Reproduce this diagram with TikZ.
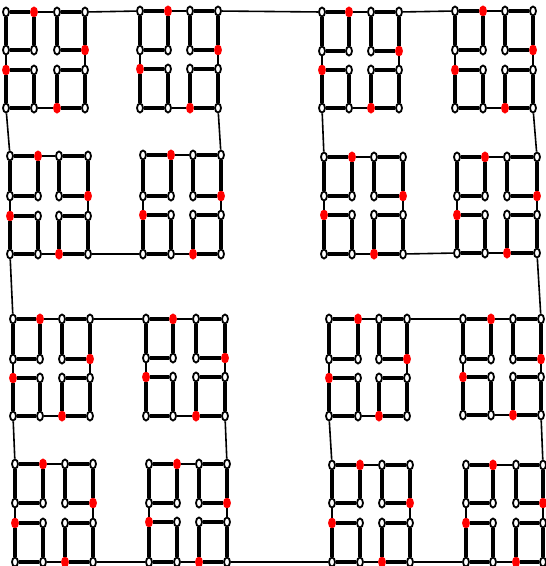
\documentclass[tikz,border=0pt]{standalone}
\usetikzlibrary{shapes.geometric}
\tikzset{
  vtx/.style={ellipse,draw=black,fill=white,line width=1.8pt,inner sep=0pt,
    minimum width=6pt,minimum height=9pt},
  sqedge/.style={line width=3.2pt,color=black},
  lnkedge/.style={line width=1.6pt,color=black}
}
\begin{document}
\begin{tikzpicture}[x=1pt,y=-1pt]
  \useasboundingbox (0,0) rectangle (546,566);
  % vertices: unit / 4 columns / 4 rows
  \foreach \u/\xa/\xb/\xc/\xd/\ya/\yb/\yc/\yd in {
      A1/6/34/57/85/12/50/70/108,     A2/140/168/190/218/11/50/69/108,
      A3/10/38/59/88/156/196/216/254, A4/143/171/193/221/155/196/215/254,
      B1/322/349/371/399/12/51/70/108, B2/455/483/505/533/11/50/70/108,
      B3/324/352/374/403/157/196/215/254, B4/457/485/507/537/157/196/215/253,
      C1/13/40/62/90/319/359/378/416, C2/146/173/196/225/319/358/377/416,
      C3/15/43/65/93/464/503/523/562, C4/149/177/199/227/464/503/522/562,
      D1/329/358/379/407/319/359/378/416, D2/463/491/513/541/319/359/377/415,
      D3/332/360/382/410/465/503/523/562, D4/466/493/516/543/465/503/523/562}{
    \foreach \y [count=\rr] in {\ya,\yb,\yc,\yd}
      \foreach \x [count=\cc] in {\xa,\xb,\xc,\xd}{
        \pgfmathtruncatemacro\isred{(\rr==1&&\cc==2)||(\rr==2&&\cc==4)||(\rr==3&&\cc==1)||(\rr==4&&\cc==3)}
        \ifnum\isred=1 \def\fc{red}\def\dc{red}\else\def\fc{white}\def\dc{black}\fi
        \node[vtx,fill=\fc,draw=\dc] (\u-\rr\cc) at (\x,\y) {};
      }
  }
  % edges inside each unit
  \foreach \u in {A1,A2,A3,A4,B1,B2,B3,B4,C1,C2,C3,C4,D1,D2,D3,D4}{
    \foreach \a/\b in {11/12,12/22,22/21,21/11,13/14,14/24,24/23,23/13,
        31/32,32/42,42/41,41/31,33/34,34/44,44/43,43/33}
      \draw[sqedge] (\u-\a) -- (\u-\b);
    \foreach \a/\b in {12/13,21/31,24/34,42/43}
      \draw[lnkedge] (\u-\a) -- (\u-\b);
  }
  % links between units
  \foreach \k in {A,B,C,D}
    \foreach \a/\b in {1-14/2-11,1-41/3-11,2-44/4-14,3-44/4-41}
      \draw[lnkedge] (\k\a) -- (\k\b);
  % links between blocks
  \foreach \a/\b in {A2-14/B1-11,A3-41/C1-11,B4-44/D2-14,C4-44/D3-41}
    \draw[lnkedge] (\a) -- (\b);
\end{tikzpicture}
\end{document}
